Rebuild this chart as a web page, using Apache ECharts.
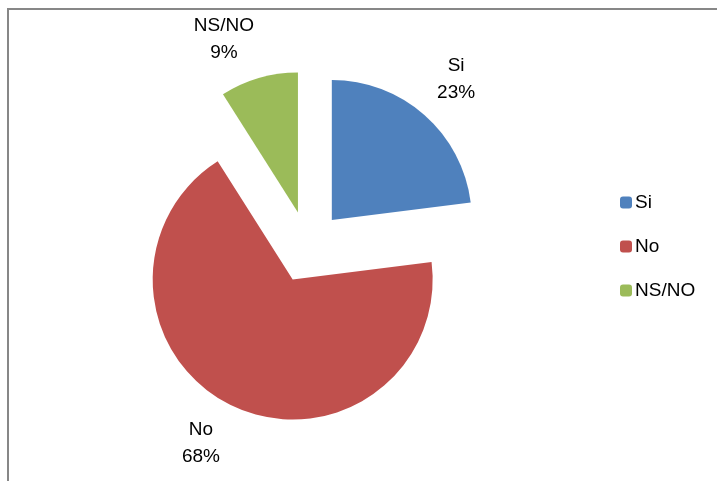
<!DOCTYPE html>
<html>
<head>
<meta charset="utf-8">
<script src="https://cdn.jsdelivr.net/npm/echarts@6/dist/echarts.min.js"></script>
<style>
html,body{margin:0;padding:0;background:#fff;}
#chart{width:717px;height:481px;}
</style>
</head>
<body>
<div id="chart"></div>
<script>
// Data
const categories = ['Si', 'No', 'NS/NO'];
const values = [23, 68, 9];
const colors = ['#4F81BD', '#C0504D', '#9BBB59'];

// Style / layout constants
const FONT = '"Liberation Sans", Arial, sans-serif';
const FONT_SIZE = 19;
const CX = 308, CY = 247, R = 140, OFFSET = 36, LABEL_R = 188;
const labelAngleNudge = [0, 4, -7]; // degrees

const total = values.reduce((a, b) => a + b, 0);
const midAngles = [];
let acc = 0;
values.forEach(v => { midAngles.push((acc + v / 2) / total * 360); acc += v; });

// Data labels placed along each slice's mid angle, outside the exploded slice
const labelGraphics = categories.map((c, i) => {
  const a = midAngles[i] * Math.PI / 180;
  const ex = CX + OFFSET * Math.sin(a), ey = CY - OFFSET * Math.cos(a);
  const b = (midAngles[i] + labelAngleNudge[i]) * Math.PI / 180;
  return {
    type: 'text',
    x: ex + LABEL_R * Math.sin(b),
    y: ey - LABEL_R * Math.cos(b),
    style: {
      text: c + '\n' + Math.round(values[i] / total * 100) + '%',
      fontFamily: FONT,
      fontSize: FONT_SIZE,
      lineHeight: 27,
      fill: '#000',
      align: 'center',
      verticalAlign: 'middle'
    }
  };
});

const chart = echarts.init(document.getElementById('chart'), null, {renderer: 'canvas'});
chart.setOption({
  animation: false,
  backgroundColor: '#ffffff',
  color: colors,
  legend: {
    orient: 'vertical',
    left: 615,
    top: 188,
    itemWidth: 12,
    itemHeight: 12,
    itemGap: 25,
    selectedMode: false,
    textStyle: {fontFamily: FONT, fontSize: FONT_SIZE, color: '#000', padding: [0, 0, 0, -2]},
    data: categories
  },
  graphic: [
    {type: 'line', shape: {x1: 7, y1: 9, x2: 717, y2: 9}, style: {stroke: '#878787', lineWidth: 2}},
    {type: 'line', shape: {x1: 8, y1: 8, x2: 8, y2: 481}, style: {stroke: '#878787', lineWidth: 2}}
  ].concat(labelGraphics),
  series: [{
    type: 'pie',
    center: [CX, CY],
    radius: R,
    startAngle: 90,
    clockwise: true,
    selectedMode: 'multiple',
    selectedOffset: OFFSET,
    emphasis: {disabled: true},
    label: {show: false},
    labelLine: {show: false},
    data: categories.map((c, i) => ({name: c, value: values[i], selected: true}))
  }]
});
</script>
</body>
</html>
